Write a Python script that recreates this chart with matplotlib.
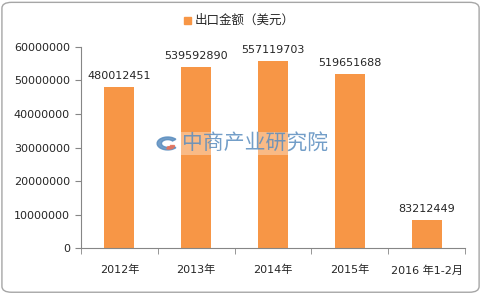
import matplotlib
matplotlib.use("Agg")
import matplotlib.pyplot as plt
from matplotlib.patches import FancyBboxPatch, Wedge
import numpy as np

plt.rcParams['font.family'] = ['DejaVu Sans', 'Noto Sans CJK SC']

# categories and values (bar heights as drawn, labels as printed)
years = ['2012年', '2013年', '2014年', '2015年', '2016 年1-2月']
heights = [48001245, 53959289, 55711970, 51965169, 8321245]
labels = ['480012451', '539592890', '557119703', '519651688', '83212449']
yticks = [0, 10000000, 20000000, 30000000, 40000000, 50000000, 60000000]

orange = '#F79646'
grey = '#868686'

fig = plt.figure(figsize=(4.82, 2.94), dpi=100)
ax = fig.add_axes([0.168, 0.155, 0.797, 0.686])

x = np.arange(len(years))
ax.bar(x, heights, width=0.39, color=orange, zorder=2)
for xi, h, lab in zip(x, heights, labels):
    ax.annotate(lab, (xi, h), xytext=(0, 4.5), textcoords='offset points',
                ha='center', va='bottom', fontsize=8, color='#262626')

ax.set_xlim(-0.5, len(years) - 0.5)
ax.set_ylim(0, 60000000)
ax.set_yticks(yticks)
ax.set_yticklabels([str(v) for v in yticks], fontsize=8, color='#262626')
ax.set_xticks(x)
ax.set_xticklabels(years, fontsize=8, color='#262626')
ax.set_xticks(np.arange(len(years) + 1) - 0.5, minor=True)
ax.tick_params(axis='x', which='major', length=0, pad=12)
ax.tick_params(axis='x', which='minor', length=4, color=grey, direction='out')
ax.tick_params(axis='y', length=4, color=grey, direction='out', pad=4)
for s in ['top', 'right']:
    ax.spines[s].set_visible(False)
for s in ['left', 'bottom']:
    ax.spines[s].set_color(grey)
    ax.spines[s].set_linewidth(0.8)

# legend at top
fig.patches.append(plt.Rectangle((0.382, 0.918), 0.015, 0.025, transform=fig.transFigure,
                                 color=orange, figure=fig))
fig.text(0.404, 0.93, '出口金额（美元）', fontsize=9, va='center', ha='left', color='#262626')

# watermark
fig.text(0.378, 0.512, '中商产业研究院', fontsize=15, color='#5a8dbf', alpha=0.85,
         va='center', ha='left',
         bbox=dict(facecolor='white', edgecolor='none', alpha=0.35, pad=1))
fig.patches.append(Wedge((0.348, 0.512), 0.022, 40, 320, width=0.009, transform=fig.transFigure,
                         color='#5a8dbf', alpha=0.85, figure=fig))
fig.patches.append(Wedge((0.350, 0.505), 0.012, 250, 360, width=0.008, transform=fig.transFigure,
                         color='#e8735a', alpha=0.85, figure=fig))

# outer rounded border
fig.patches.append(FancyBboxPatch((0.004, 0.006), 0.99, 0.986, boxstyle='round,pad=0,rounding_size=0.02',
                                  transform=fig.transFigure, facecolor='none',
                                  edgecolor='#a6a6a6', linewidth=1, figure=fig))

fig.savefig('out.png', dpi=100)
